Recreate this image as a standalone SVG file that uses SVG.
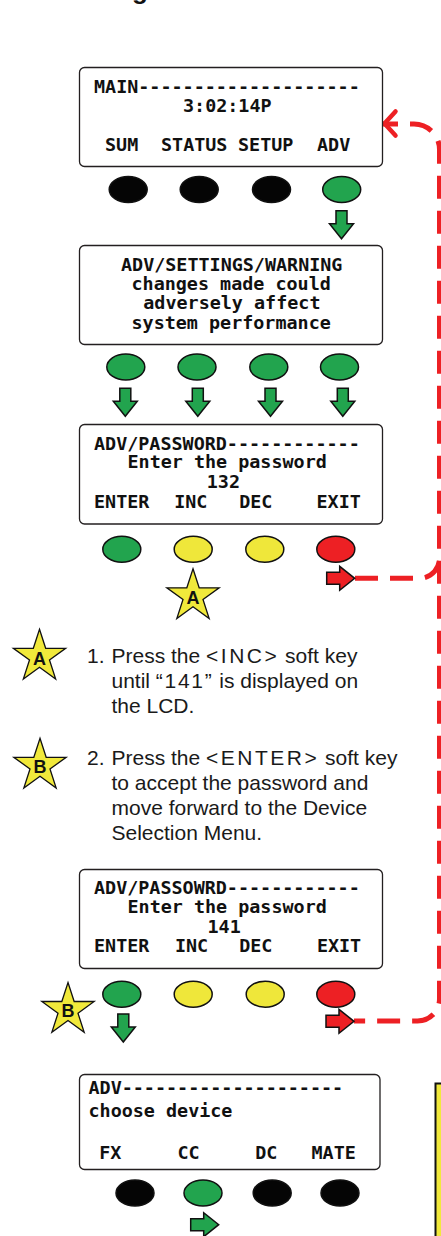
<svg xmlns="http://www.w3.org/2000/svg" width="441" height="1236" viewBox="0 0 441 1236">
<style>
.lcd{fill:#fff;stroke:#231f20;stroke-width:1.3}
.t{font-family:"DejaVu Sans Mono",monospace;font-weight:bold;font-size:18.4px;fill:#111}
.k{stroke:#111;stroke-width:1.5}
.blk{fill:#050505}
.grn{fill:#22a44e}
.yel{fill:#efe73a}
.red{fill:#ed2024}
.ins{font-family:"Liberation Sans",Arial,sans-serif;font-size:21px;fill:#1a1a1a}
.sp{letter-spacing:2.5px}
.star{fill:#f1e93b;stroke:#111;stroke-width:1.3}
.sl{font-family:"Liberation Sans",Arial,sans-serif;font-weight:bold;font-size:18px;fill:#111;text-anchor:middle}
.dash{fill:none;stroke:#ed2024;stroke-width:5;stroke-dasharray:23 12}
</style>
<defs>
<path id="dn" d="M-5.5,0H5.5V13H12L0,28L-12,13H-5.5Z"/>
<path id="rt" d="M0,-6H13V-12L28,0L13,12V6H0Z"/>
<path id="st" d="M0,-27.5L6.17,-8.49L26.15,-8.5L9.99,3.24L16.16,22.25L0,10.5L-16.16,22.25L-9.99,3.24L-26.15,-8.5L-6.17,-8.49Z"/>
</defs>

<text x="132" y="-1" font-family="Liberation Sans, Arial, sans-serif" font-weight="bold" font-size="26" fill="#111">g</text>

<g id="connectors">
<path class="dash" stroke-dashoffset="8" d="M383,124H414A25.5,25.5 0 0 1 439.5,149.5V999A22,22 0 0 1 417.5,1021H354"/>
<path class="dash" d="M355,578.3H419.5A20,20 0 0 0 439.5,558.3"/>
<polyline points="395.5,111.5 384.5,123.5 395.5,135.5" fill="none" stroke="#ed2024" stroke-width="4.5" stroke-linecap="round" stroke-linejoin="round"/>
<use href="#dn" class="k grn" x="341.5" y="210.7"/>
<use href="#dn" class="k grn" x="125.3" y="388.3"/>
<use href="#dn" class="k grn" x="197.8" y="388.3"/>
<use href="#dn" class="k grn" x="270.5" y="388.3"/>
<use href="#dn" class="k grn" x="342.8" y="388.3"/>
<use href="#dn" class="k grn" x="123.3" y="1014"/>
<use href="#rt" class="k red" x="326.7" y="578.3"/>
<use href="#rt" class="k red" x="326" y="1021.3"/>
<use href="#rt" class="k grn" x="190.7" y="1224.7"/>
</g>

<g id="screen-main">
<rect class="lcd" x="79.5" y="67.5" width="303" height="99" rx="5"/>
<text class="t" x="94" y="93">MAIN--------------------</text>
<text class="t" x="183" y="112">3:02:14P</text>
<text class="t" x="105" y="151">SUM</text>
<text class="t" x="161" y="151">STATUS</text>
<text class="t" x="238" y="151">SETUP</text>
<text class="t" x="317" y="151">ADV</text>
</g>
<g id="keys-main">
<ellipse class="k blk" cx="128.2" cy="189.5" rx="19" ry="13"/>
<ellipse class="k blk" cx="199.2" cy="189.5" rx="19" ry="13"/>
<ellipse class="k blk" cx="271.5" cy="189.5" rx="19" ry="13"/>
<ellipse class="k grn" cx="341.7" cy="189.5" rx="19" ry="13"/>
</g>

<g id="screen-warning">
<rect class="lcd" x="79.5" y="245.5" width="303" height="99" rx="5"/>
<text class="t" x="121" y="271">ADV/SETTINGS/WARNING</text>
<text class="t" x="131.5" y="290">changes made could</text>
<text class="t" x="143.3" y="309.3">adversely affect</text>
<text class="t" x="131.5" y="328.5">system performance</text>
</g>
<g id="keys-warning">
<ellipse class="k grn" cx="125.8" cy="367" rx="19" ry="13"/>
<ellipse class="k grn" cx="197" cy="367" rx="19" ry="13"/>
<ellipse class="k grn" cx="268.8" cy="367" rx="19" ry="13"/>
<ellipse class="k grn" cx="339.5" cy="367" rx="19" ry="13"/>
</g>

<g id="screen-password">
<rect class="lcd" x="79.5" y="424.5" width="303" height="99.5" rx="5"/>
<text class="t" x="94" y="450">ADV/PASSWORD------------</text>
<text class="t" x="127.5" y="468.3">Enter the password</text>
<text class="t" x="206.8" y="487.7">132</text>
<text class="t" x="94" y="507.7">ENTER</text>
<text class="t" x="174.2" y="507.7">INC</text>
<text class="t" x="239.2" y="507.7">DEC</text>
<text class="t" x="316.5" y="507.7">EXIT</text>
</g>
<g id="keys-password">
<ellipse class="k grn" cx="121.8" cy="549.3" rx="19" ry="13"/>
<ellipse class="k yel" cx="193.2" cy="549.3" rx="19" ry="13"/>
<ellipse class="k yel" cx="264.8" cy="549.3" rx="19" ry="13"/>
<ellipse class="k red" cx="335.8" cy="549.3" rx="19" ry="13"/>
</g>

<g id="star-a1"><use href="#st" class="star" x="193" y="596.3"/><text class="sl" x="193" y="604.3">A</text></g>
<g id="star-a2"><use href="#st" class="star" x="39.5" y="656.8"/><text class="sl" x="39.5" y="665">A</text></g>
<g id="star-b1"><use href="#st" class="star" x="40" y="765.8"/><text class="sl" x="40" y="773.3">B</text></g>
<g id="star-b2"><use href="#st" class="star" x="68" y="1010"/><text class="sl" x="68" y="1017">B</text></g>

<g id="step-1">
<text class="ins" x="87" y="663">1.</text>
<text class="ins" x="111.5" y="663">Press the <tspan class="sp">&lt;INC&gt;</tspan> soft key</text>
<text class="ins" x="111.5" y="688">until <tspan letter-spacing="1.7">“141”</tspan> is displayed on</text>
<text class="ins" x="111.5" y="713">the LCD.</text>
</g>
<g id="step-2">
<text class="ins" x="87" y="765">2.</text>
<text class="ins" x="111.5" y="765">Press the <tspan class="sp">&lt;ENTER&gt;</tspan> soft key</text>
<text class="ins" x="111.5" y="790">to accept the password and</text>
<text class="ins" x="111.5" y="815">move forward to the Device</text>
<text class="ins" x="111.5" y="840">Selection Menu.</text>
</g>

<g id="screen-password-141">
<rect class="lcd" x="79.5" y="869.5" width="303" height="99" rx="5"/>
<text class="t" x="94" y="894.3">ADV/PASSOWRD------------</text>
<text class="t" x="127.5" y="913.3">Enter the password</text>
<text class="t" x="207.5" y="932.7">141</text>
<text class="t" x="94" y="952.3">ENTER</text>
<text class="t" x="174.9" y="952.3">INC</text>
<text class="t" x="239.2" y="952.3">DEC</text>
<text class="t" x="316.9" y="952.3">EXIT</text>
</g>
<g id="keys-password-141">
<ellipse class="k grn" cx="121.8" cy="994.2" rx="19" ry="13"/>
<ellipse class="k yel" cx="193.2" cy="994.2" rx="19" ry="13"/>
<ellipse class="k yel" cx="265.2" cy="994.2" rx="19" ry="13"/>
<ellipse class="k red" cx="335.8" cy="994.2" rx="19" ry="13"/>
</g>

<g id="screen-device">
<rect class="lcd" x="79.5" y="1074.5" width="300.5" height="95" rx="5"/>
<text class="t" x="88.5" y="1094.3">ADV--------------------</text>
<text class="t" x="88.5" y="1116.7">choose device</text>
<text class="t" x="99.2" y="1159">FX</text>
<text class="t" x="177.5" y="1159">CC</text>
<text class="t" x="255.2" y="1159">DC</text>
<text class="t" x="311.5" y="1159">MATE</text>
</g>
<g id="keys-device">
<ellipse class="k blk" cx="135" cy="1193" rx="19" ry="13"/>
<ellipse class="k grn" cx="203" cy="1193" rx="19" ry="13"/>
<ellipse class="k blk" cx="272.2" cy="1193" rx="19" ry="13"/>
<ellipse class="k blk" cx="340" cy="1193" rx="19" ry="13"/>
</g>

<g id="note-box">
<rect x="435.5" y="1083.5" width="20" height="200" fill="#f1e93b" stroke="#111" stroke-width="2"/>
</g>
</svg>
